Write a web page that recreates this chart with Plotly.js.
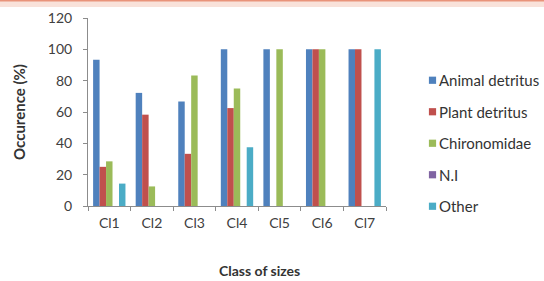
<!DOCTYPE html>
<html>
<head>
<meta charset="utf-8">
<script src="https://cdn.plot.ly/plotly-3.0.1.min.js"></script>
<style>html,body{margin:0;padding:0;background:#fff;}#chart{width:544px;height:281px;}</style>
</head>
<body>
<div id="chart"></div>
<script>
const categories = ["Cl1", "Cl2", "Cl3", "Cl4", "Cl5", "Cl6", "Cl7"];
const animalDetritus = [93.3, 72.2, 66.7, 100, 100, 100, 100];
const plantDetritus  = [25, 58.3, 33.3, 62.5, 0, 100, 100];
const chironomidae   = [28.5, 12.5, 83.3, 75, 100, 100, 0];
const ni             = [0, 0, 0, 0, 0, 0, 0];
const other          = [14.3, 0, 0, 37.5, 0, 0, 100];
const seriesNames = ["Animal detritus", "Plant detritus", "Chironomidae", "N.I", "Other"];
const seriesColors = ["#4F81BD", "#C0504D", "#9BBB59", "#8064A2", "#4BACC6"];
const yTicks = [0, 20, 40, 60, 80, 100, 120];

const seriesValues = [animalDetritus, plantDetritus, chironomidae, ni, other];
const FONT = "Lato, 'Open Sans', sans-serif";

const traces = seriesValues.map((vals, i) => ({
  type: "bar",
  name: seriesNames[i],
  x: categories,
  y: vals,
  marker: {color: seriesColors[i], line: {width: 0}},
  legendgroup: "g" + i,
  hoverinfo: "skip"
}));

const L = 88, R = 158, T = 18, B = 75;
const W = 544, H = 281;
const pw = W - L - R, ph = H - T - B;
const px2x = p => (p - L) / pw;
const py2y = p => (H - B - p) / ph;

const layout = {
  width: W, height: H,
  margin: {l: L, r: R, t: T, b: B, pad: 0, autoexpand: false},
  paper_bgcolor: "#ffffff",
  plot_bgcolor: "#ffffff",
  barmode: "group",
  bargap: 0.24,
  bargroupgap: 0,
  font: {family: FONT, color: "#404040", size: 14},
  showlegend: true,
  legend: {
    x: px2x(399), xanchor: "left",
    y: py2y(64), yanchor: "top",
    font: {family: FONT, size: 15, color: "#333333"},
    tracegroupgap: 9,
    bgcolor: "rgba(0,0,0,0)",
    itemclick: false
  },
  xaxis: {
    type: "category",
    showgrid: false,
    showline: true, linecolor: "#8c8c8c", linewidth: 1,
    ticks: "outside", ticklen: 4, tickcolor: "#8c8c8c", tickson: "boundaries",
    tickfont: {family: FONT, size: 14, color: "#404040"},
    ticklabelstandoff: 4,
    zeroline: false,
    fixedrange: true,
    automargin: false
  },
  yaxis: {
    range: [0, 120],
    tickvals: yTicks,
    ticktext: yTicks.map(String),
    showgrid: false,
    showline: true, linecolor: "#8c8c8c", linewidth: 1,
    ticks: "outside", ticklen: 4, tickcolor: "#8c8c8c",
    tickfont: {family: FONT, size: 14, color: "#404040"},
    ticklabelstandoff: 8,
    zeroline: false,
    fixedrange: true,
    automargin: false,
    title: {text: "<b>Occurence (%)</b>", font: {family: FONT, size: 15, color: "#333333"}, standoff: 18}
  },
  annotations: [{
    text: "<b>Class of sizes</b>",
    xref: "paper", yref: "paper",
    x: px2x(259), y: py2y(270),
    xanchor: "center", yanchor: "middle",
    showarrow: false,
    font: {family: FONT, size: 14, color: "#333333"}
  }],
  shapes: [
    {type: "rect", xref: "paper", yref: "paper", x0: px2x(0), x1: px2x(W), y0: py2y(7), y1: py2y(0),
     fillcolor: "#F9E2DA", line: {width: 0}, layer: "below"},
    {type: "rect", xref: "paper", yref: "paper", x0: px2x(0), x1: px2x(W), y0: py2y(1.5), y1: py2y(0),
     fillcolor: "#E9937A", line: {width: 0}, layer: "below"}
  ]
};

function tweakLegend() {
  const gd = document.getElementById("chart");
  gd.querySelectorAll(".legend .traces").forEach(tr => {
    const pts = tr.querySelector(".legendpoints");
    if (pts) pts.setAttribute("transform", "translate(21.5,0) scale(0.6)");
  });
}

Plotly.newPlot("chart", traces, layout, {displayModeBar: false, staticPlot: true}).then(tweakLegend);
</script>
</body>
</html>
